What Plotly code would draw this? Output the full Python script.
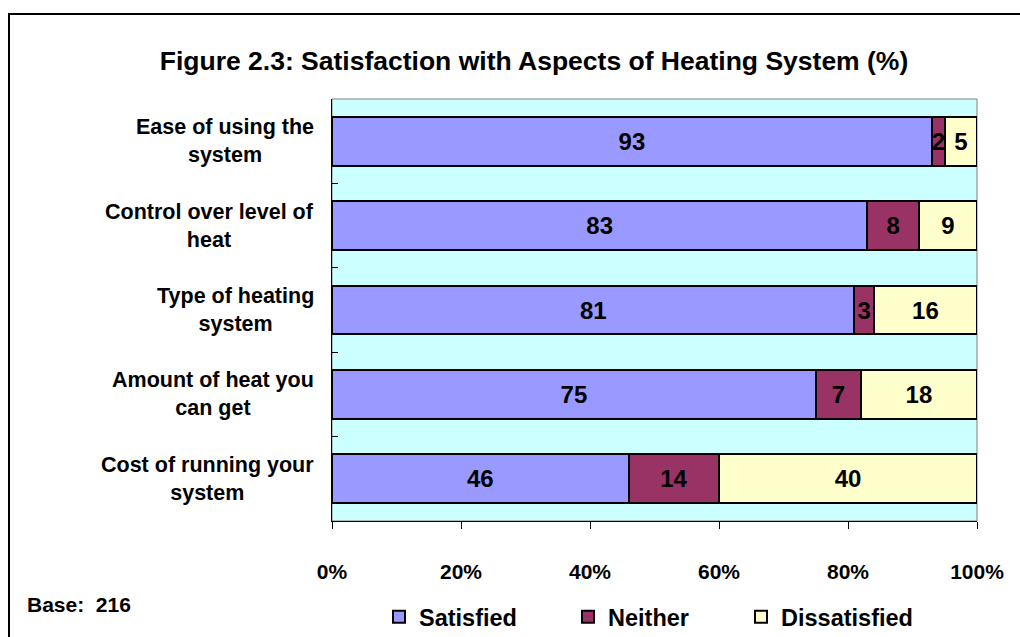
import plotly.graph_objects as go

categories = [
    "Ease of using the<br>system",
    "Control over level of<br>heat",
    "Type of heating<br>system",
    "Amount of heat you<br>can get",
    "Cost of running your<br>system",
]
cat_keys = ["Ease", "Control", "Type", "Amount", "Cost"]
satisfied = [93, 83, 81, 75, 46]
neither = [2, 8, 3, 7, 14]
dissatisfied = [5, 9, 16, 18, 40]
series_names = ["Satisfied", "Neither", "Dissatisfied"]
series_colors = ["#9999FF", "#993366", "#FFFFCC"]
x_ticks = [0, 20, 40, 60, 80, 100]
x_ticklabels = ["0%", "20%", "40%", "60%", "80%", "100%"]
title_text = "Figure 2.3: Satisfaction with Aspects of Heating System (%)"
base_text = "Base:  216"

FONT = "Liberation Sans, Arial, sans-serif"

fig = go.Figure()
legends = ["legend", "legend2", "legend3"]
for name, vals, col, lg in zip(series_names, [satisfied, neither, dissatisfied], series_colors, legends):
    fig.add_trace(go.Bar(
        y=cat_keys, x=vals, name=name, orientation="h",
        marker=dict(color=col, line=dict(color="black", width=2)),
        text=vals, textposition="inside", insidetextanchor="middle",
        textangle=0, constraintext="none",
        textfont=dict(family=FONT, size=24, color="black", weight="bold"),
        legend=lg, hoverinfo="skip",
    ))

W, H = 1020, 637
L, R, T, B = 332, 43, 99, 116
pw, ph = W - L - R, H - T - B

def px(x):
    return (x - L) / pw

def py(y):
    return (H - B - y) / ph

annotations = []
for key, lab in zip(cat_keys, categories):
    annotations.append(dict(
        x=0, xref="paper", y=key, yref="y", text=lab, showarrow=False,
        xanchor="right", yanchor="middle", align="center", xshift=-16,
        font=dict(family=FONT, size=21.5, color="black", weight="bold"),
    ))
annotations.append(dict(
    x=px(25), xref="paper", y=py(604), yref="paper", text=base_text,
    showarrow=False, xanchor="left", yanchor="middle",
    font=dict(family=FONT, size=21, color="black", weight="bold"),
))

leg_common = dict(orientation="h", yanchor="middle", xanchor="left",
                  xref="container", yref="container", y=1 - 617 / H,
                  bgcolor="rgba(0,0,0,0)", borderwidth=0,
                  font=dict(family=FONT, size=23.5, color="black", weight="bold"))
fig.update_layout(
    width=W, height=H, autosize=False,
    margin=dict(l=L, r=R, t=T, b=B, autoexpand=False),
    paper_bgcolor="white", plot_bgcolor="#CCFFFF",
    barmode="stack", bargap=0.42,
    showlegend=True,
    title=dict(text=title_text, x=534 / W, xanchor="center", xref="container",
               y=1 - 61 / H, yanchor="middle", yref="container",
               font=dict(family=FONT, size=26.5, color="black", weight="bold")),
    xaxis=dict(range=[0, 100], tickvals=x_ticks, ticktext=x_ticklabels,
               ticks="outside", ticklen=7, tickcolor="black", showgrid=False,
               showline=True, linecolor="black", linewidth=1, zeroline=False,
               ticklabelstandoff=25, automargin=False,
               tickfont=dict(family=FONT, size=21, color="black", weight="bold")),
    yaxis=dict(categoryorder="array", categoryarray=cat_keys, autorange="reversed",
               showticklabels=False, ticks="inside", ticklen=6, tickcolor="black",
               tickson="boundaries", showgrid=False, showline=True, automargin=False,
               linecolor="black", linewidth=1, zeroline=False),
    legend=dict(x=379 / W, **leg_common),
    legend2=dict(x=568 / W, **leg_common),
    legend3=dict(x=741 / W, **leg_common),
    uniformtext=dict(minsize=24, mode="show"),
    annotations=annotations,
    shapes=[
        dict(type="rect", xref="paper", yref="paper", x0=0, x1=1, y0=0, y1=1,
             line=dict(color="#808080", width=1), layer="below"),
        dict(type="rect", xref="paper", yref="paper", x0=px(9), x1=px(1030),
             y0=py(14), y1=py(650), line=dict(color="black", width=2)),
    ],
)

fig.write_html("out.html", config={"displayModeBar": False},
               post_script="document.body.style.margin='0';document.body.style.overflow='hidden';")
